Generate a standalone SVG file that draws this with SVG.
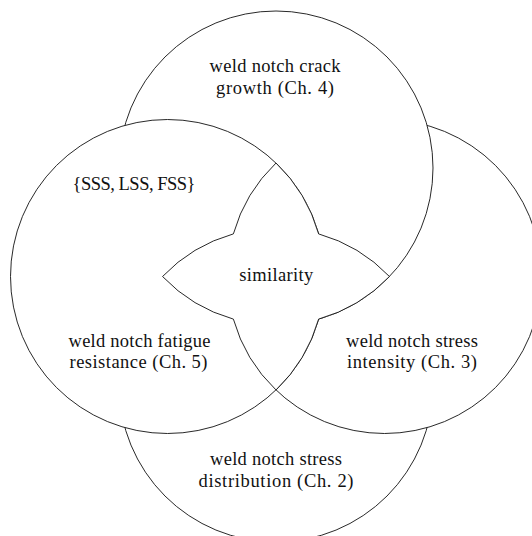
<svg xmlns="http://www.w3.org/2000/svg" width="532" height="536" viewBox="0 0 532 536">
  <style>
    .set { fill: #ffffff; stroke: #111111; stroke-width: 0.9; }
    text { font-family: 'Liberation Serif', 'DejaVu Serif', serif; font-size: 18.5px; fill: #111111; text-anchor: middle; }
  </style>
  <rect x="0" y="0" width="532" height="536" fill="#ffffff"/>
  <g id="stress-distribution">
    <circle class="set" cx="276" cy="385" r="157"/>
    <text x="276" y="465" textLength="132" lengthAdjust="spacing">weld notch stress</text>
    <text x="276" y="486.5" textLength="155" lengthAdjust="spacing">distribution (Ch. 2)</text>
  </g>
  <g id="stress-intensity">
    <circle class="set" cx="384.5" cy="276.5" r="157"/>
    <text x="412" y="346.8" textLength="132" lengthAdjust="spacing">weld notch stress</text>
    <text x="412" y="368.4" textLength="130" lengthAdjust="spacing">intensity (Ch. 3)</text>
  </g>
  <g id="crack-growth">
    <circle class="set" cx="276" cy="168" r="157"/>
    <text x="275" y="71.8" textLength="131" lengthAdjust="spacing">weld notch crack</text>
    <text x="275" y="93.5" textLength="118" lengthAdjust="spacing">growth (Ch. 4)</text>
  </g>
  <g id="fatigue-resistance">
    <circle class="set" cx="167.5" cy="276.5" r="157"/>
    <text x="134" y="190" textLength="123" lengthAdjust="spacing">{SSS, LSS, FSS}</text>
    <text x="139.5" y="346.8" textLength="142" lengthAdjust="spacing">weld notch fatigue</text>
    <text x="138.5" y="368.4" textLength="138" lengthAdjust="spacing">resistance (Ch. 5)</text>
  </g>
  <g id="similarity">
    <path class="set" d="M 276 163.02 A 157 157 0 0 1 318.62 233.88 A 157 157 0 0 1 389.48 276.5 A 157 157 0 0 1 318.62 319.12 A 157 157 0 0 1 276 389.98 A 157 157 0 0 1 233.38 319.12 A 157 157 0 0 1 162.52 276.5 A 157 157 0 0 1 233.38 233.88 A 157 157 0 0 1 276 163.02 Z"/>
    <text x="276.3" y="280.6" textLength="74" lengthAdjust="spacing">similarity</text>
  </g>
  <g id="connectors"/>
</svg>
